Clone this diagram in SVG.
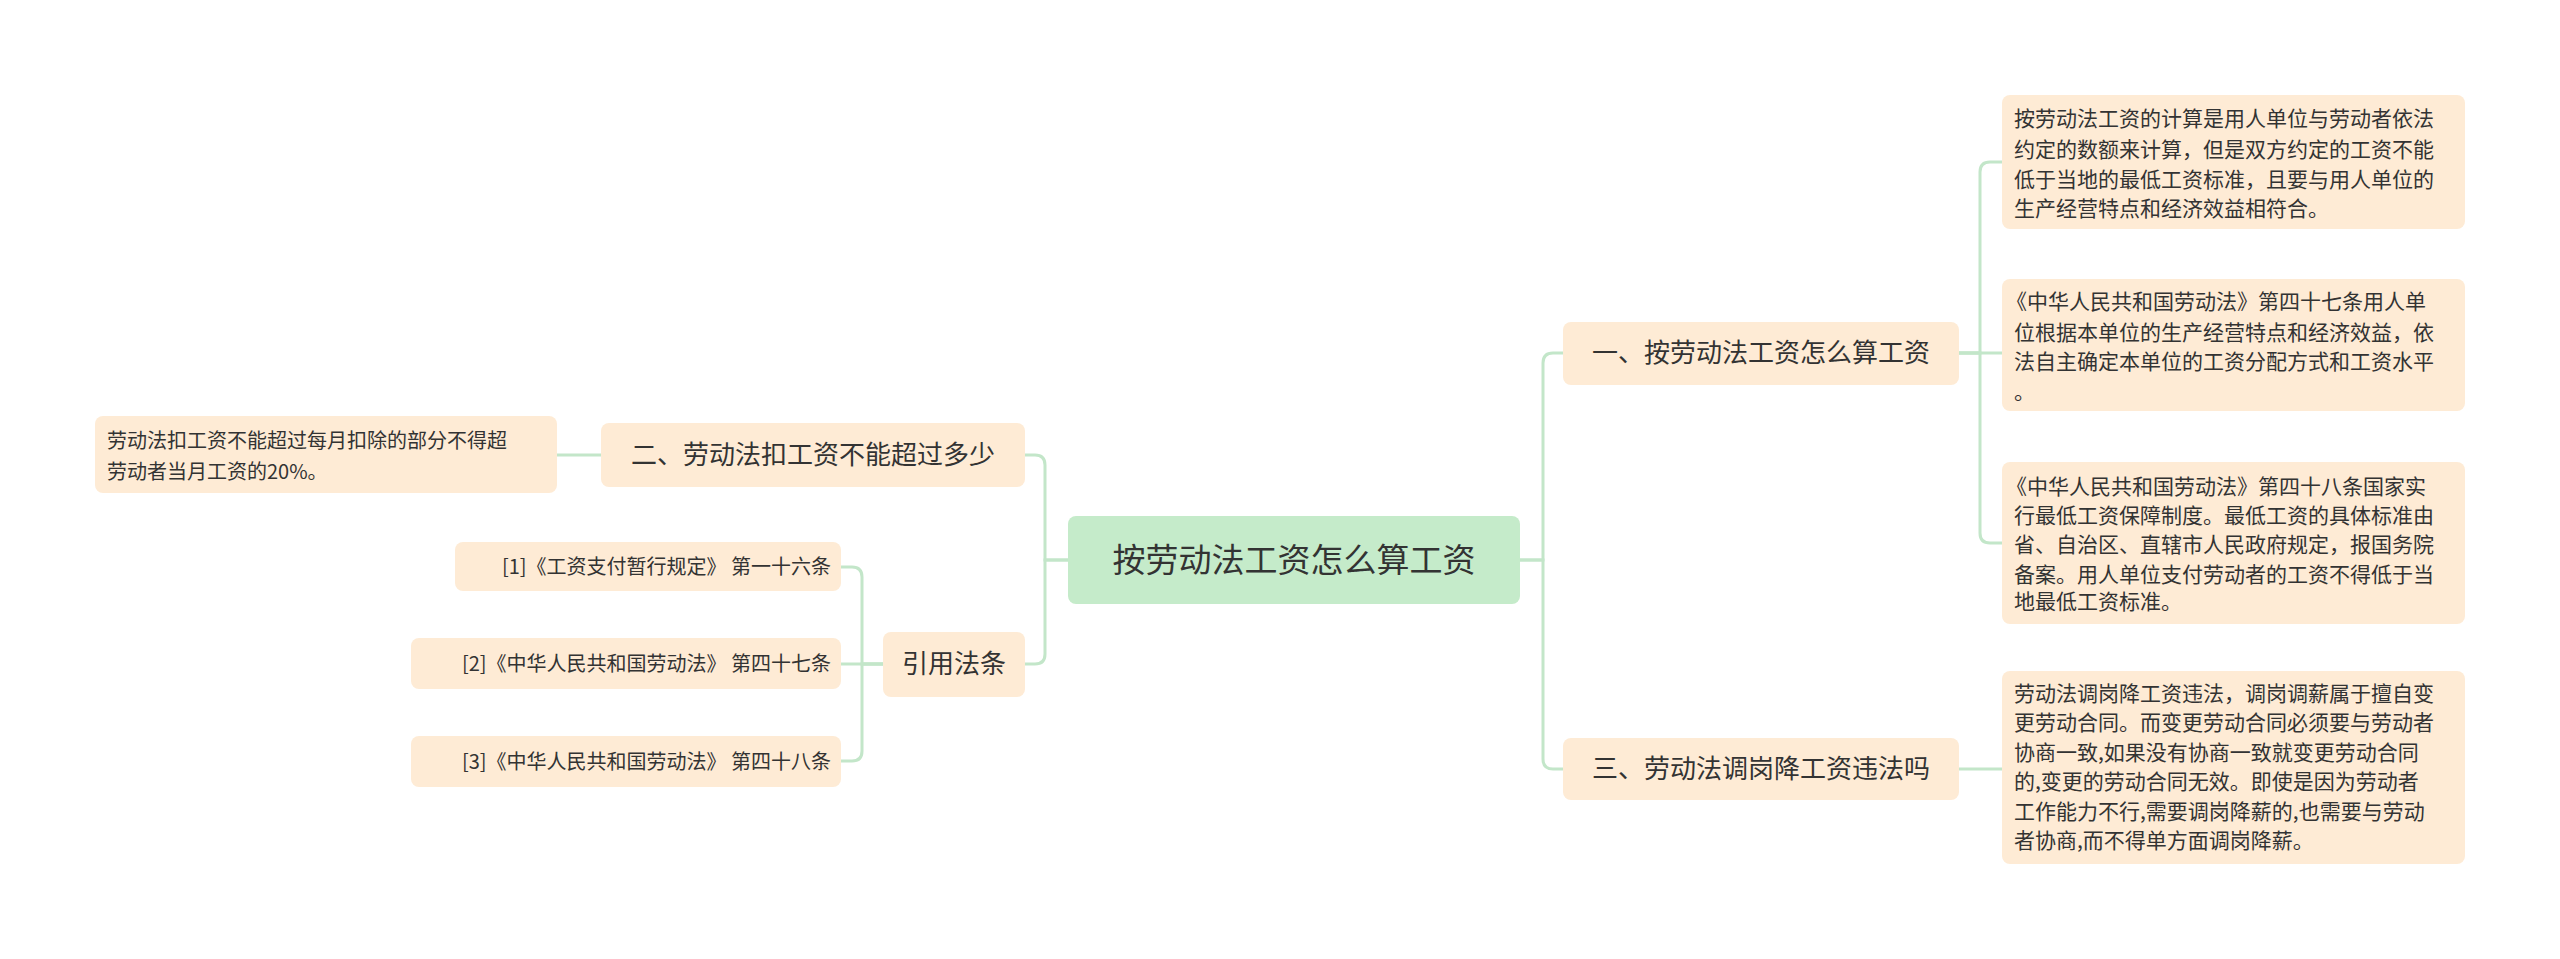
<svg xmlns="http://www.w3.org/2000/svg" width="2560" height="959" viewBox="0 0 2560 959">
<style>
.n{fill:#feebd5}
.r{fill:#c5ebca}
text{font-family:"Noto Sans CJK SC","Noto Sans",sans-serif;fill:#333}
.t1{font-size:33px}
.t2{font-size:26px}
.t3{font-size:20px}
.t4{font-size:21px}
.c{fill:none;stroke:#c3e6c9;stroke-width:3}
</style>
<rect width="2560" height="959" fill="#fff"/>
<g id="connectors">
<path class="c" d="M1520,560 H1543 V363 Q1543,353 1553,353 H1563"/>
<path class="c" d="M1520,560 H1543 V759 Q1543,769 1553,769 H1563"/>
<path class="c" d="M1959,353 H1980 V172 Q1980,162 1990,162 H2002"/>
<path class="c" d="M1959,353 H2002"/>
<path class="c" d="M1959,353 H1980 V533 Q1980,543 1990,543 H2002"/>
<path class="c" d="M1959,769 H2002"/>
<path class="c" d="M1068,560 H1045 V465 Q1045,455 1035,455 H1025"/>
<path class="c" d="M1068,560 H1045 V654 Q1045,664 1035,664 H1025"/>
<path class="c" d="M601,455 H557"/>
<path class="c" d="M883,664 H862 V577 Q862,567 852,567 H841"/>
<path class="c" d="M883,664 H841"/>
<path class="c" d="M883,664 H862 V751 Q862,761 852,761 H841"/>
</g>
<g id="root"><rect class="r" x="1068" y="516" width="452" height="88" rx="8"/><text class="t1" x="1294" y="572" text-anchor="middle">按劳动法工资怎么算工资</text></g>
<g id="n1"><rect class="n" x="1563" y="322" width="396" height="63" rx="8"/><text class="t2" x="1761" y="362" text-anchor="middle">一、按劳动法工资怎么算工资</text></g>
<g id="n3"><rect class="n" x="1563" y="738" width="396" height="62" rx="8"/><text class="t2" x="1761" y="778" text-anchor="middle">三、劳动法调岗降工资违法吗</text></g>
<g id="n2"><rect class="n" x="601" y="423" width="424" height="64" rx="8"/><text class="t2" x="813" y="464" text-anchor="middle">二、劳动法扣工资不能超过多少</text></g>
<g id="n4"><rect class="n" x="883" y="632" width="142" height="65" rx="8"/><text class="t2" x="954" y="673" text-anchor="middle">引用法条</text></g>
<g id="l1"><rect class="n" x="2002" y="95" width="463" height="134" rx="8"/><text class="t4" x="2014"><tspan x="2014" y="126">按劳动法工资的计算是用人单位与劳动者依法</tspan><tspan x="2014" y="157">约定的数额来计算，但是双方约定的工资不能</tspan><tspan x="2014" y="187">低于当地的最低工资标准，且要与用人单位的</tspan><tspan x="2014" y="216">生产经营特点和经济效益相符合。</tspan></text></g>
<g id="l2"><rect class="n" x="2002" y="279" width="463" height="132" rx="8"/><text class="t4" x="2014"><tspan x="2006" y="309">《中华人民共和国劳动法》第四十七条用人单</tspan><tspan x="2014" y="340">位根据本单位的生产经营特点和经济效益，依</tspan><tspan x="2014" y="369">法自主确定本单位的工资分配方式和工资水平</tspan><tspan x="2014" y="399">。</tspan></text></g>
<g id="l3"><rect class="n" x="2002" y="462" width="463" height="162" rx="8"/><text class="t4" x="2014"><tspan x="2006" y="494">《中华人民共和国劳动法》第四十八条国家实</tspan><tspan x="2014" y="523">行最低工资保障制度。最低工资的具体标准由</tspan><tspan x="2014" y="552">省、自治区、直辖市人民政府规定，报国务院</tspan><tspan x="2014" y="582">备案。用人单位支付劳动者的工资不得低于当</tspan><tspan x="2014" y="609">地最低工资标准。</tspan></text></g>
<g id="l4"><rect class="n" x="2002" y="671" width="463" height="193" rx="8"/><text class="t4" x="2014"><tspan x="2014" y="701">劳动法调岗降工资违法，调岗调薪属于擅自变</tspan><tspan x="2014" y="730">更劳动合同。而变更劳动合同必须要与劳动者</tspan><tspan x="2014" y="760">协商一致,如果没有协商一致就变更劳动合同</tspan><tspan x="2014" y="789">的,变更的劳动合同无效。即使是因为劳动者</tspan><tspan x="2014" y="819">工作能力不行,需要调岗降薪的,也需要与劳动</tspan><tspan x="2014" y="848">者协商,而不得单方面调岗降薪。</tspan></text></g>
<g id="l5"><rect class="n" x="95" y="416" width="462" height="77" rx="8"/><text class="t3" x="107"><tspan x="107" y="448">劳动法扣工资不能超过每月扣除的部分不得超</tspan><tspan x="107" y="479">劳动者当月工资的20%。</tspan></text></g>
<g id="c1"><rect class="n" x="455" y="542" width="386" height="49" rx="8"/><text class="t3" x="831" y="574" text-anchor="end">[1]《工资支付暂行规定》 第一十六条</text></g>
<g id="c2"><rect class="n" x="411" y="638" width="430" height="51" rx="8"/><text class="t3" x="831" y="671" text-anchor="end">[2]《中华人民共和国劳动法》 第四十七条</text></g>
<g id="c3"><rect class="n" x="411" y="736" width="430" height="51" rx="8"/><text class="t3" x="831" y="769" text-anchor="end">[3]《中华人民共和国劳动法》 第四十八条</text></g>
</svg>
